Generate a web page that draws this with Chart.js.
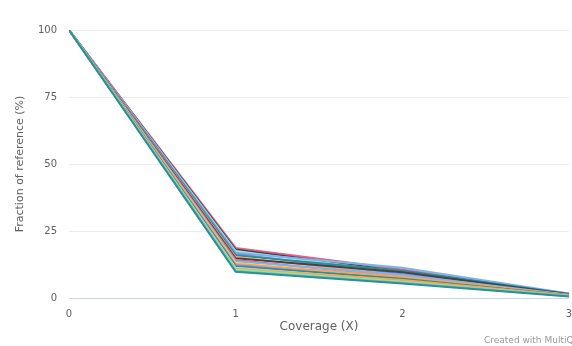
<!DOCTYPE html>
<html>
<head>
<meta charset="utf-8">
<script src="https://cdn.jsdelivr.net/npm/chart.js@4/dist/chart.umd.min.js"></script>
<style>
  html, body { margin: 0; padding: 0; background: #ffffff; }
  #wrap { width: 572px; height: 346px; position: relative; }
</style>
</head>
<body>
<div id="wrap"><canvas id="chart" width="572" height="346"></canvas></div>
<script>
// Coverage depth (X) on the horizontal axis
const coverage = [0, 1, 2, 3];

// Fraction of the reference reached at each depth, one array per sample
const sample01 = [100, 18.7, 10.6, 1.4];
const sample02 = [100, 18.1, 9.9, 1.6];
const sample03 = [100, 17.5, 9.4, 1.2];
const sample04 = [100, 16.9, 11.3, 1.7];
const sample05 = [100, 16.4, 8.9, 1.3];
const sample06 = [100, 15.9, 10.2, 1.5];
const sample07 = [100, 15.3, 8.4, 1.1];
const sample08 = [100, 14.8, 9.6, 1.4];
const sample09 = [100, 14.2, 7.9, 1.0];
const sample10 = [100, 13.7, 8.6, 1.2];
const sample11 = [100, 13.1, 7.4, 0.9];
const sample12 = [100, 12.7, 7.9, 1.1];
const sample13 = [100, 12.2, 6.9, 0.8];
const sample14 = [100, 11.8, 7.2, 1.0];
const sample15 = [100, 11.3, 6.4, 0.8];
const sample16 = [100, 10.9, 6.7, 0.9];
const sample17 = [100, 10.5, 6.0, 0.7];
const sample18 = [100, 10.1, 5.7, 0.7];
const sample19 = [100, 9.8, 5.4, 0.6];

const sampleNames = [
  'S01', 'S02', 'S03', 'S04', 'S05', 'S06', 'S07', 'S08', 'S09', 'S10',
  'S11', 'S12', 'S13', 'S14', 'S15', 'S16', 'S17', 'S18', 'S19'
];
const sampleValues = [
  sample01, sample02, sample03, sample04, sample05, sample06, sample07,
  sample08, sample09, sample10, sample11, sample12, sample13, sample14,
  sample15, sample16, sample17, sample18, sample19
];

// One line colour per sample
const sampleColours = [
  '#f15c80', '#434348', '#91e8e1', '#7cb5ec', '#8085e9',
  '#2b908f', '#f7a35c', '#434348', '#f15c80', '#7cb5ec',
  '#e4d354', '#f7a35c', '#8085e9', '#2b908f', '#91e8e1',
  '#f7a35c', '#90ed7d', '#7cb5ec', '#2b908f'
];

// Y axis ticks
const yTicks = [0, 25, 50, 75, 100];

const datasets = sampleNames.map((name, i) => ({
  label: name,
  data: coverage.map((x, j) => ({ x: x, y: sampleValues[i][j] })),
  borderColor: sampleColours[i],
  backgroundColor: sampleColours[i],
  borderWidth: 2,
  pointRadius: 0,
  tension: 0,
  fill: false,
  order: -i
}));

const credit = {
  id: 'credit',
  afterDraw(chart) {
    const ctx = chart.ctx;
    ctx.save();
    ctx.font = '9px "DejaVu Sans", sans-serif';
    ctx.fillStyle = '#999999';
    ctx.textBaseline = 'alphabetic';
    ctx.textAlign = 'left';
    ctx.fillText('Created with MultiQC', 484, 343);
    ctx.restore();
  }
};

const font = { family: '"DejaVu Sans", sans-serif', size: 10 };

new Chart(document.getElementById('chart'), {
  type: 'line',
  data: { datasets },
  plugins: [credit],
  options: {
    responsive: false,
    animation: false,
    layout: { padding: { left: 14, right: 3, top: 30, bottom: 0 } },
    plugins: { legend: { display: false }, tooltip: { enabled: false } },
    scales: {
      x: {
        type: 'linear',
        min: 0, max: 3,
        ticks: {
          stepSize: 1, color: '#606060', font: font, padding: 10,
          callback: v => String(v)
        },
        grid: { display: false, drawTicks: false },
        border: { display: false },
        title: {
          display: true, text: 'Coverage (X)', color: '#606060',
          font: { family: '"DejaVu Sans", sans-serif', size: 12 },
          padding: { top: 2, bottom: 12 }
        },
        afterFit(scale) {
          scale.height = 48;
          scale.paddingLeft = 0;
          scale.paddingRight = 0;
        }
      },
      y: {
        min: 0, max: 100,
        afterBuildTicks(scale) { scale.ticks = yTicks.map(v => ({ value: v })); },
        ticks: { color: '#606060', font: font, padding: 12 },
        grid: {
          drawTicks: false,
          color: ctx => (ctx.tick && ctx.tick.value === 0) ? '#ccd6eb' : '#ececec',
          lineWidth: 1
        },
        border: { display: false },
        title: {
          display: true, text: 'Fraction of reference (%)', color: '#606060',
          font: { family: '"DejaVu Sans", sans-serif', size: 11 },
          padding: { top: 0, bottom: 0 }
        },
        afterFit(scale) {
          scale.width = 55;
          scale.paddingTop = 0;
          scale.paddingBottom = 0;
        }
      }
    }
  }
});
</script>
</body>
</html>
